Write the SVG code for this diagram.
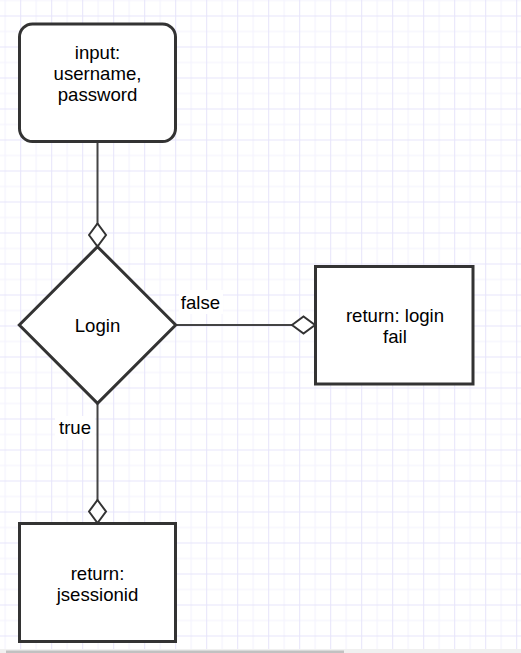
<svg xmlns="http://www.w3.org/2000/svg" width="521" height="653" viewBox="0 0 521 653">
  <defs>
    <pattern id="grid" width="31" height="31" patternUnits="userSpaceOnUse" x="20.2" y="15.5">
      <path d="M16 0V31M0 16H31" stroke="#f2f1fd" stroke-width="1" fill="none"/>
      <path d="M0.5 0V31M0 0.5H31" stroke="#e6e4fa" stroke-width="1" fill="none"/>
    </pattern>
    <marker id="dia" viewBox="0 0 25 20" refX="24" refY="10" markerWidth="25" markerHeight="20" markerUnits="userSpaceOnUse" orient="auto">
      <path d="M1 10 L12.5 1.5 L24 10 L12.5 18.5 Z" fill="#fff" stroke="#333" stroke-width="2"/>
    </marker>
    <style>
      .shape { fill: #fff; stroke: #333; stroke-width: 3; }
      .conn { fill: none; stroke: #444; stroke-width: 2; }
      .lbl { font-family: "Liberation Sans", Arial, sans-serif; font-size: 18.6px; fill: #000; text-anchor: middle; }
      .bg { fill: #fff; }
    </style>
  </defs>
  <rect width="521" height="653" fill="#fff"/>
  <rect width="521" height="653" fill="url(#grid)"/>

  <g id="connectors">
    <path class="conn" d="M97.5 141.7 V246.5" marker-end="url(#dia)"/>
    <path class="conn" d="M175.7 325 H315" marker-end="url(#dia)"/>
    <path class="conn" d="M97.5 403.3 V523" marker-end="url(#dia)"/>
    <g id="label-false">
      <rect class="bg" x="179" y="290" width="44" height="24"/>
      <text class="lbl" x="200.5" y="309">false</text>
    </g>
    <g id="label-true">
      <rect class="bg" x="55" y="416" width="40" height="24"/>
      <text class="lbl" x="75" y="434">true</text>
    </g>
  </g>

  <g id="node-input">
    <rect class="shape" x="19.5" y="24" width="156" height="117.5" rx="13"/>
    <text class="lbl" x="97.5" y="58.5">input:</text>
    <text class="lbl" x="97.5" y="80">username,</text>
    <text class="lbl" x="97.5" y="101">password</text>
  </g>

  <g id="node-login">
    <polygon class="shape" points="97.5,246.7 175.7,325 97.5,403.3 19.3,325"/>
    <text class="lbl" x="97.5" y="332">Login</text>
  </g>

  <g id="node-fail">
    <rect class="shape" x="315.5" y="266.5" width="157.5" height="117.5"/>
    <text class="lbl" x="395" y="322">return: login</text>
    <text class="lbl" x="395" y="342.5">fail</text>
  </g>

  <g id="node-session">
    <rect class="shape" x="19.5" y="523.5" width="156" height="118"/>
    <text class="lbl" x="97.5" y="580">return:</text>
    <text class="lbl" x="97.5" y="600.5">jsessionid</text>
  </g>

  <g id="scrollbar">
    <rect x="0" y="649" width="521" height="4" fill="#f0f0f0"/>
    <rect x="6" y="650.5" width="338" height="2.5" fill="#c1c1c1"/>
  </g>
</svg>
